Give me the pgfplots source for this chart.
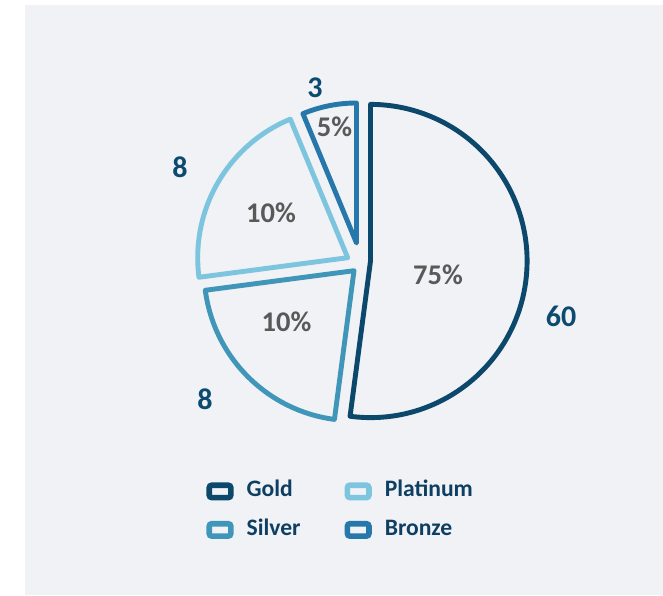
\documentclass[border=0pt]{standalone}
\usepackage{pgfplots}
\pgfplotsset{compat=1.18}
\usepackage{fontspec}
\setmainfont{Carlito}
\definecolor{bg}{HTML}{F0F2F5}
\definecolor{cgold}{HTML}{0C476C}
\definecolor{csilver}{HTML}{4096B9}
\definecolor{cplat}{HTML}{7DC5DE}
\definecolor{cbronze}{HTML}{2678AA}
\definecolor{lbl}{HTML}{0D4A6F}
\definecolor{legtxt}{HTML}{0E3F62}
\definecolor{pct}{HTML}{595959}
% slice: apex x, apex y (axis units = px), start angle, end angle, radius (pt), colour
\newcommand{\slice}[6]{%
  \draw[line width=2.45pt, draw=#6, fill=bg, line join=round]
    (axis cs:#1,#2) -- ++(#3:#5) arc[start angle=#3, end angle=#4, radius=#5] -- cycle;
}
\begin{document}
\begin{tikzpicture}
\begin{axis}[
  x=0.5pt, y=0.5pt,
  xmin=0, xmax=663, ymin=0, ymax=595,
  hide axis, clip=false,
  legend columns=2,
  legend cell align=left,
  legend style={at={(axis cs:206,115.5)}, anchor=north west,
    draw=none, fill=none, inner sep=0pt,
    font=\bfseries\fontsize{11.8}{13}\selectfont, text=legtxt,
    nodes={inner sep=1pt, text height=7.5pt, text depth=2pt},
    column sep=5.5pt, row sep=7.75pt,
    /tikz/every even column/.append style={column sep=21pt}},
]
\fill[white] (axis cs:0,0) rectangle (axis cs:663,595);
\fill[bg] (axis cs:25,0) rectangle (axis cs:663,590);
% slices (value, share of circle in degrees): Gold 60 (187.5), Silver 8 (75), Platinum 8 (75), Bronze 3 (22.5)
\slice{370.5}{334}{-97.5}{90}{78.3pt}{cgold}
\slice{354}{324.3}{187.5}{262.5}{75pt}{csilver}
\slice{347.7}{337.3}{112.5}{187.5}{75pt}{cplat}
\slice{356.5}{352}{90}{112.5}{70pt}{cbronze}
% value labels
\node[font=\bfseries\fontsize{15}{18}\selectfont, text=lbl] at (axis cs:315,507) {3};
\node[font=\bfseries\fontsize{15}{18}\selectfont, text=lbl] at (axis cs:180,428) {8};
\node[font=\bfseries\fontsize{15}{18}\selectfont, text=lbl] at (axis cs:561,279) {60};
\node[font=\bfseries\fontsize{15}{18}\selectfont, text=lbl] at (axis cs:205,196) {8};
% percentage labels
\node[font=\bfseries\fontsize{14.25}{17}\selectfont, text=pct] at (axis cs:334.5,468) {5\%};
\node[font=\bfseries\fontsize{14.25}{17}\selectfont, text=pct] at (axis cs:271,382) {10\%};
\node[font=\bfseries\fontsize{14.25}{17}\selectfont, text=pct] at (axis cs:438,320.5) {75\%};
\node[font=\bfseries\fontsize{14.25}{17}\selectfont, text=pct] at (axis cs:286.5,273) {10\%};
% legend
\addlegendimage{legend image code/.code={\draw[line width=2.8pt, draw=cgold, fill=bg, rounded corners=1.3pt] (0pt,-3.1pt) rectangle (10.8pt,3.1pt);}}
\addlegendentry{Gold}
\addlegendimage{legend image code/.code={\draw[line width=2.8pt, draw=cplat, fill=bg, rounded corners=1.3pt] (0pt,-3.1pt) rectangle (10.8pt,3.1pt);}}
\addlegendentry{Platinum}
\addlegendimage{legend image code/.code={\draw[line width=2.8pt, draw=csilver, fill=bg, rounded corners=1.3pt] (0pt,-3.1pt) rectangle (10.8pt,3.1pt);}}
\addlegendentry{Silver}
\addlegendimage{legend image code/.code={\draw[line width=2.8pt, draw=cbronze, fill=bg, rounded corners=1.3pt] (0pt,-3.1pt) rectangle (10.8pt,3.1pt);}}
\addlegendentry{Bronze}
\end{axis}
\end{tikzpicture}
\end{document}
